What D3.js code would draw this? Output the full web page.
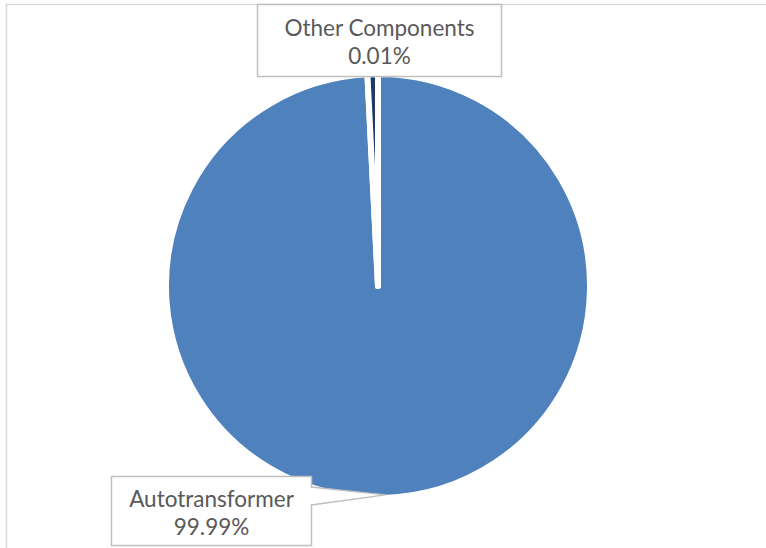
<!DOCTYPE html>
<html>
<head>
<meta charset="utf-8">
<script src="https://cdn.jsdelivr.net/npm/d3@7/dist/d3.min.js"></script>
<style>
  html, body { margin: 0; padding: 0; background: #fff; }
  svg { display: block; }
</style>
</head>
<body>
<svg id="chart" width="766" height="548"></svg>
<script>
// ---- data ----
const categories = ["Autotransformer", "Other Components"];
const values = [99.99, 0.01];
const sliceColors = ["#4F81BD", "#1F3864"];

// ---- layout ----
const W = 766, H = 548;
const cx = 378, cy = 286, visibleR = 209;
const strokeW = 6;
const R = visibleR + strokeW / 2;
const minVisibleAngle = 0.05; // tiny slices are drawn with a minimum visible angle

const svg = d3.select("#chart");

// chart area border
svg.append("rect")
  .attr("x", 6.5).attr("y", 4.5)
  .attr("width", W + 10).attr("height", H + 10)
  .attr("fill", "#fff").attr("stroke", "#D9D9D9").attr("stroke-width", 1.5);

const data = categories.map((c, i) => ({ name: c, value: values[i], color: sliceColors[i] }));
const total = d3.sum(values);
const fmt = d3.format(".2%");

const arcs = d3.pie().sort(null).value(d => d.value).startAngle(0).endAngle(2 * Math.PI)(data);
// enforce minimum visible angle for tiny slices (taken from the preceding slice)
for (let i = 1; i < arcs.length; i++) {
  const a = arcs[i];
  if (a.endAngle - a.startAngle < minVisibleAngle) {
    a.startAngle = a.endAngle - minVisibleAngle;
    arcs[i - 1].endAngle = a.startAngle;
  }
}

const arc = d3.arc().innerRadius(0).outerRadius(R);
const g = svg.append("g").attr("transform", `translate(${cx},${cy})`);
g.selectAll("path.slice").data(arcs).join("path")
  .attr("class", "slice")
  .attr("d", arc)
  .attr("fill", d => d.data.color)
  .attr("stroke", "#fff")
  .attr("stroke-width", strokeW)
  .attr("stroke-linejoin", "round");

// ---- labels ----
const fontFamily = "Lato, 'Open Sans', sans-serif";
const fontSize = 22.5;
const lineGap = 28;

function drawLabel(box, lines, calloutTip) {
  const lg = svg.append("g");
  let d;
  if (calloutTip) {
    const { x0, y0, x1, y1 } = box;
    d = `M${x0},${y0}H${x1}V${calloutTip.ya}L${calloutTip.x},${calloutTip.y}L${x1},${calloutTip.yb}V${y1}H${x0}Z`;
  } else {
    d = `M${box.x0},${box.y0}H${box.x1}V${box.y1}H${box.x0}Z`;
  }
  lg.append("path").attr("d", d)
    .attr("fill", "#fff").attr("stroke", "#BFBFBF").attr("stroke-width", 1.5)
    .attr("stroke-linejoin", "miter");
  const tx = (box.x0 + box.x1) / 2;
  lines.forEach((t, i) => {
    lg.append("text")
      .attr("x", tx).attr("y", box.baseline + i * lineGap)
      .attr("text-anchor", "middle")
      .attr("font-family", fontFamily)
      .attr("font-size", fontSize)
      .attr("fill", "#595959")
      .text(t);
  });
}

// Other Components label (above the top of the pie)
const other = arcs[1];
drawLabel({ x0: 257.5, y0: 4.5, x1: 501.5, y1: 76.5, baseline: 35.5 },
  [other.data.name, fmt(other.data.value / total)]);

// Autotransformer label with callout to bottom of pie
const auto = arcs[0];
const tipAngle = Math.PI - 0.035;
const tip = { x: cx + visibleR * Math.sin(tipAngle), y: cy - visibleR * Math.cos(tipAngle) };
drawLabel({ x0: 111.5, y0: 476.5, x1: 311.5, y1: 545.5, baseline: 506.5 },
  [auto.data.name, fmt(auto.data.value / total)],
  { x: tip.x, y: tip.y, ya: 487, yb: 505 });
</script>
</body>
</html>
